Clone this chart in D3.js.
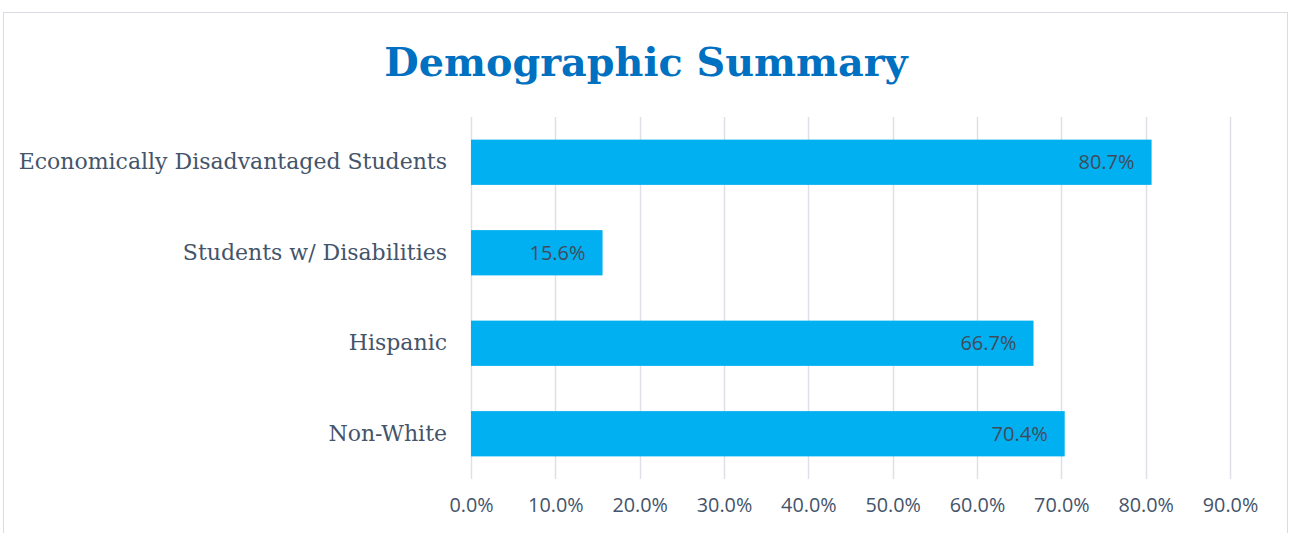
<!DOCTYPE html>
<html><head><meta charset="utf-8">
<script src="https://cdn.jsdelivr.net/npm/d3@7"></script>
<style>body{margin:0;background:#fff;}svg{display:block;}</style>
</head><body>
<script>
const categories = ["Economically Disadvantaged Students", "Students w/ Disabilities", "Hispanic", "Non-White"];
const values = [0.807, 0.156, 0.667, 0.704];
const tickValues = [0, 0.1, 0.2, 0.3, 0.4, 0.5, 0.6, 0.7, 0.8, 0.9];
const title = "Demographic Summary";

const W = 1289, H = 533;
const svg = d3.select("body").append("svg").attr("width", W).attr("height", H);

svg.append("rect").attr("x", 3.5).attr("y", 12.5).attr("width", 1284).attr("height", 540)
  .attr("fill", "#fff").attr("stroke", "#D9DDE3").attr("stroke-width", 1);

const m = {left: 471, right: 1230, top: 117, bottom: 479};
const x = d3.scaleLinear().domain([0, 0.9]).range([m.left, m.right]);
const y = d3.scaleBand().domain(categories).range([m.top, m.bottom]).paddingInner(0.5).paddingOuter(0.25);

svg.append("text").attr("x", 646).attr("y", 76).attr("text-anchor", "middle")
  .attr("font-family", "DejaVu Serif").attr("font-weight", "bold").attr("font-size", 39.7)
  .attr("fill", "#0070C0").text(title);

// gridlines
svg.append("g").selectAll("line").data(tickValues).join("line")
  .attr("x1", d => Math.round(x(d)) + 0.5).attr("x2", d => Math.round(x(d)) + 0.5)
  .attr("y1", m.top).attr("y2", m.bottom)
  .attr("stroke", "#DDE1E7").attr("stroke-width", 1.5);

// x axis
const xAxis = d3.axisBottom(x).tickValues(tickValues).tickFormat(d3.format(".1%")).tickSize(0).tickPadding(19);
const gx = svg.append("g").attr("transform", `translate(0,${m.bottom})`).call(xAxis);
gx.select(".domain").remove();
gx.selectAll("text").attr("font-family", "Open Sans").attr("font-size", 19.8).attr("fill", "#44546A");

// y axis labels
const yAxis = d3.axisLeft(y).tickSize(0).tickPadding(24);
const gy = svg.append("g").attr("transform", `translate(${m.left},0)`).call(yAxis);
gy.select(".domain").remove();
gy.selectAll("text").attr("font-family", "DejaVu Serif").attr("font-size", 22).attr("fill", "#44546A");

// bars
svg.append("g").selectAll("rect").data(categories).join("rect")
  .attr("x", x(0)).attr("y", d => y(d))
  .attr("width", (d, i) => x(values[i]) - x(0)).attr("height", y.bandwidth())
  .attr("fill", "#00B0F0");

// data labels
svg.append("g").selectAll("text").data(categories).join("text")
  .attr("x", (d, i) => x(values[i]) - 17).attr("y", d => y(d) + y.bandwidth() / 2)
  .attr("dy", "0.35em").attr("text-anchor", "end")
  .attr("font-family", "Open Sans").attr("font-size", 20).attr("fill", "#404B5A")
  .text((d, i) => d3.format(".1%")(values[i]));
</script>
</body></html>
